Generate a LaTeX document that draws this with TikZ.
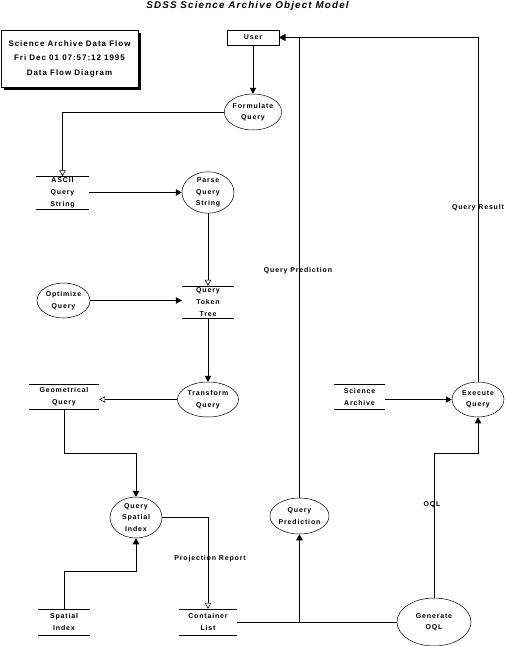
\documentclass[tikz,border=0pt]{standalone}
\usepackage{fontspec}
\newfontfamily\dfdfont{Liberation Sans}[LetterSpace=12]
\usepackage{tikz}
\usetikzlibrary{arrows.meta,shapes.geometric,shadows}
\tikzset{
  wire/.style={line width=0.6pt,draw=black},
  flow/.style={-{Triangle[length=6pt,width=6.5pt]},wire},
  openflow/.style={-{Triangle[open,length=6pt,width=6.5pt]},wire},
  label/.style={font=\dfdfont\bfseries\fontsize{7}{12}\selectfont,inner sep=1pt},
  process/.style={ellipse,draw=black,line width=0.5pt,inner sep=0pt,align=center,font=\dfdfont\bfseries\fontsize{7}{11.5}\selectfont},
  store/.style={inner sep=0pt,align=center,font=\dfdfont\bfseries\fontsize{7}{12}\selectfont},
  agent/.style={rectangle,draw=black,line width=0.6pt,inner sep=0pt,align=center,font=\dfdfont\bfseries\fontsize{7}{12}\selectfont}
}
\begin{document}
\begin{tikzpicture}[x=1pt,y=-1pt]
  \useasboundingbox (0,0) rectangle (506,646);
  \node[font=\dfdfont\bfseries\itshape\fontsize{9.8}{11}\selectfont] (title) at (247.5,6) {SDSS Science Archive Object Model};
  \node[agent,minimum width=137pt,minimum height=57pt,fill=white,drop shadow={shadow xshift=2.5pt,shadow yshift=-2.5pt,opacity=1,fill=black},font=\dfdfont\bfseries\fontsize{8}{14.5}\selectfont] (info) at (69.5,58.5) {Science Archive Data Flow\\Fri Dec 01 07:57:12 1995\\Data Flow Diagram};
  \node[agent,minimum width=52pt,minimum height=15pt] (user) at (253,37.5) {User};
  \node[process,minimum width=54pt,minimum height=36pt] (formulate) at (253,112) {Formulate\\Query};
  \node[process,minimum width=52pt,minimum height=35pt] (parse) at (208,192.5) {Parse\\Query\\String};
  \node[process,minimum width=53pt,minimum height=35pt] (optimize) at (63.5,300.5) {Optimize\\Query};
  \node[process,minimum width=61pt,minimum height=35pt] (transform) at (208,399.5) {Transform\\Query};
  \node[process,minimum width=52pt,minimum height=41pt] (spatialq) at (136,517.5) {Query\\Spatial\\Index};
  \node[process,minimum width=57pt,minimum height=36pt] (predict) at (299.5,516) {Query\\Prediction};
  \node[process,minimum width=52pt,minimum height=35pt] (execute) at (478,399.5) {Execute\\Query};
  \node[process,minimum width=74pt,minimum height=48pt] (generate) at (434,622) {Generate\\OQL};
  \node[store,minimum width=53pt,minimum height=33pt] (ascii) at (62.5,193) {ASCII\\Query\\String};
  \node[store,minimum width=52pt,minimum height=32pt] (token) at (208,302) {Query\\Token\\Tree};
  \node[store,minimum width=70pt,minimum height=25pt] (geom) at (64,396.5) {Geometrical\\Query};
  \node[store,minimum width=51pt,minimum height=25pt] (archive) at (359.5,396.5) {Science\\Archive};
  \node[store,minimum width=52pt,minimum height=26pt] (spatial) at (64,622) {Spatial\\Index};
  \node[store,minimum width=58pt,minimum height=26pt] (container) at (208,622) {Container\\List};
  \foreach \s in {ascii,token,geom,archive,spatial,container}
    \draw[wire] (\s.north west) -- (\s.north east) (\s.south west) -- (\s.south east);
  \node[label] (lblproj) at (210,559) {Projection Report};
  \node[label] (lblpred) at (298,271) {Query Prediction};
  \node[label] (lblresult) at (478,208) {Query Result};
  \node[label] (lbloql) at (432,505) {OQL};
  \draw[flow] (user) -- (formulate);
  \draw[openflow] (formulate.west) -| (ascii.north);
  \draw[flow] (parse.west -| ascii.east) -- (parse.west);
  \draw[openflow] (parse) -- (token);
  \draw[flow] (optimize) -- (optimize -| token.west);
  \draw[flow] (token) -- (transform);
  \draw[openflow] (transform.west) -- (transform.west -| geom.east);
  \draw[flow] (geom.south) -- ++(0,44) -| (spatialq.north);
  \draw[flow] (spatial.north) -- ++(0,-38) -| (spatialq.south);
  \draw[openflow] (spatialq.east) -| (container.north);
  \coordinate (join) at (predict.south |- container.east);
  \draw[wire] (container.east) -- (generate.west);
  \draw[flow] (join) -- (predict.south);
  \draw[flow] (predict.north) |- (user.east);
  \draw[flow] (execute.north) |- (user.east);
  \draw[flow] (execute.west -| archive.east) -- (execute.west);
  \draw[flow] (generate.north) -- ++(0,-144) -| (execute.south);
\end{tikzpicture}
\end{document}
